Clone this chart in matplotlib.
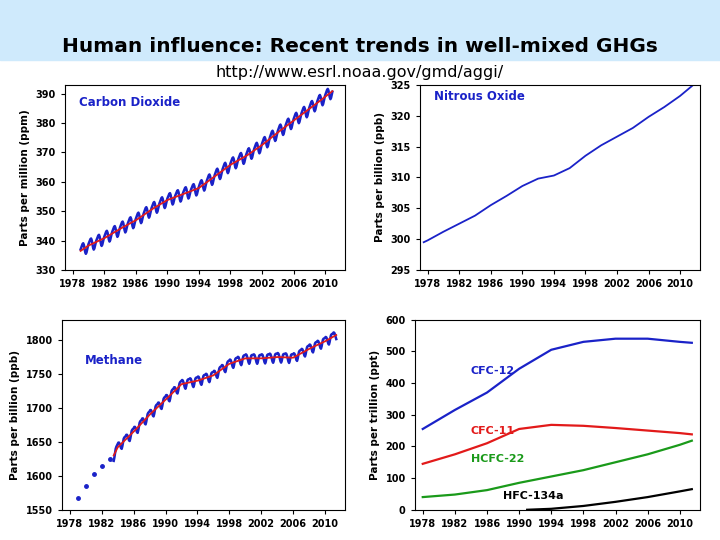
import numpy as np
import matplotlib
matplotlib.use("Agg")
import matplotlib.pyplot as plt
from matplotlib.patches import Rectangle

# ---- data ----
co2_years = [1979, 1980, 1982, 1984, 1986, 1988, 1990, 1992, 1994, 1996, 1998, 2000, 2002, 2004, 2006, 2008, 2010, 2011]
co2_vals = [336.5, 338.3, 340.8, 344.0, 346.9, 350.6, 353.8, 355.8, 357.9, 361.8, 365.8, 368.8, 372.5, 376.8, 380.8, 384.8, 388.9, 391.0]
co2_cycle = [0.5, 1.0, 1.5, 1.9, 2.0, 1.3, 0.0, -1.4, -2.2, -1.9, -1.0, -0.2]

n2o_years = [1977.5, 1978, 1979, 1980, 1982, 1984, 1986, 1988, 1990, 1992, 1994, 1996, 1998, 2000, 2002, 2004, 2006, 2008, 2010, 2011.5]
n2o_vals = [299.5, 299.8, 300.5, 301.2, 302.5, 303.8, 305.5, 307.0, 308.6, 309.8, 310.3, 311.5, 313.5, 315.2, 316.6, 318.0, 319.8, 321.4, 323.2, 324.8]

ch4_dot_years = [1979, 1980, 1981, 1982, 1983]
ch4_dot_vals = [1568, 1585, 1602, 1615, 1625]
ch4_years = [1983.5, 1984, 1986, 1988, 1990, 1992, 1994, 1996, 1998, 2000, 2002, 2004, 2006, 2008, 2010, 2011.5]
ch4_vals = [1630, 1642, 1665, 1690, 1712, 1735, 1740, 1748, 1765, 1773, 1773, 1775, 1774, 1787, 1798, 1808]
ch4_cycle = [5, 6, 5, 2, -2, -6, -8, -5, 0, 4, 5, 5]

hal_years = [1978, 1982, 1986, 1990, 1994, 1998, 2002, 2006, 2010, 2011.5]
cfc12 = [255, 315, 370, 445, 505, 530, 540, 540, 530, 527]
cfc11 = [145, 175, 210, 255, 268, 265, 258, 250, 242, 238]
hcfc22 = [40, 48, 62, 85, 105, 125, 150, 175, 205, 218]
hfc_years = [1991, 1994, 1998, 2002, 2006, 2010, 2011.5]
hfc134a = [0, 3, 12, 25, 40, 58, 65]

xticks = list(range(1978, 2011, 4))

BLUE = "#1a22c8"
RED = "#e21a1a"

fig = plt.figure(figsize=(7.2, 5.4), dpi=100)
fig.patches.append(Rectangle((0, 0.889), 1, 0.111, transform=fig.transFigure,
                             color="#cfeafc", zorder=0))
fig.text(0.5, 0.913, "Human influence: Recent trends in well-mixed GHGs",
         ha="center", va="center", fontsize=14.5, fontweight="bold")
fig.text(0.5, 0.866, "http://www.esrl.noaa.gov/gmd/aggi/", ha="center",
         va="center", fontsize=11.5)

def style(ax, ylabel, yticks, ylim):
    ax.set_xlim(1977, 2012.5)
    ax.set_xticks(xticks)
    ax.set_yticks(yticks)
    ax.set_ylim(*ylim)
    ax.set_ylabel(ylabel, fontsize=7.5, fontweight="bold")
    ax.tick_params(labelsize=7, length=3, direction="out")
    for l in ax.get_xticklabels() + ax.get_yticklabels():
        l.set_fontweight("bold")

def monthly(years, vals, cycle):
    t = np.arange(years[0], years[-1], 1 / 12)
    base = np.interp(t, years, vals)
    seas = np.array([cycle[int(round((x % 1) * 12)) % 12] for x in t])
    return t, base, base + seas

# CO2
ax1 = fig.add_axes([0.09, 0.50, 0.389, 0.343])
t, b, m = monthly(co2_years, co2_vals, co2_cycle)
ax1.plot(t, m, color=BLUE, lw=1.8)
ax1.plot(t, b, color=RED, lw=1.3)
style(ax1, "Parts per million (ppm)", range(330, 391, 10), (330, 393))
ax1.text(0.05, 0.94, "Carbon Dioxide", transform=ax1.transAxes, color=BLUE,
         fontsize=8.5, fontweight="bold", va="top")

# N2O
ax2 = fig.add_axes([0.583, 0.50, 0.389, 0.343])
ax2.plot(n2o_years, n2o_vals, color=BLUE, lw=1.3)
style(ax2, "Parts per billion (ppb)", range(295, 326, 5), (295, 325))
ax2.text(0.05, 0.97, "Nitrous Oxide", transform=ax2.transAxes, color=BLUE,
         fontsize=8.5, fontweight="bold", va="top")

# CH4
ax3 = fig.add_axes([0.086, 0.056, 0.393, 0.352])
ax3.plot(ch4_dot_years, ch4_dot_vals, "o", color=BLUE, ms=2.5)
t, b, m = monthly(ch4_years, ch4_vals, ch4_cycle)
ax3.plot(t, m, color=BLUE, lw=1.8)
ax3.plot(t, b, color=RED, lw=1.3)
style(ax3, "Parts per billion (ppb)", range(1550, 1801, 50), (1550, 1830))
ax3.text(0.08, 0.82, "Methane", transform=ax3.transAxes, color=BLUE,
         fontsize=8.5, fontweight="bold", va="top")

# Halocarbons
ax4 = fig.add_axes([0.576, 0.056, 0.396, 0.352])
ax4.plot(hal_years, cfc12, color=BLUE, lw=1.6)
ax4.plot(hal_years, cfc11, color=RED, lw=1.6)
ax4.plot(hal_years, hcfc22, color="#1a9a1a", lw=1.6)
ax4.plot(hfc_years, hfc134a, color="black", lw=1.6)
style(ax4, "Parts per trillion (ppt)", range(0, 601, 100), (0, 600))
ax4.text(1984, 430, "CFC-12", color=BLUE, fontsize=8, fontweight="bold")
ax4.text(1984, 240, "CFC-11", color=RED, fontsize=8, fontweight="bold")
ax4.text(1984, 150, "HCFC-22", color="#1a9a1a", fontsize=8, fontweight="bold")
ax4.text(1988, 35, "HFC-134a", color="black", fontsize=8, fontweight="bold")

fig.savefig("out.png", dpi=100)
